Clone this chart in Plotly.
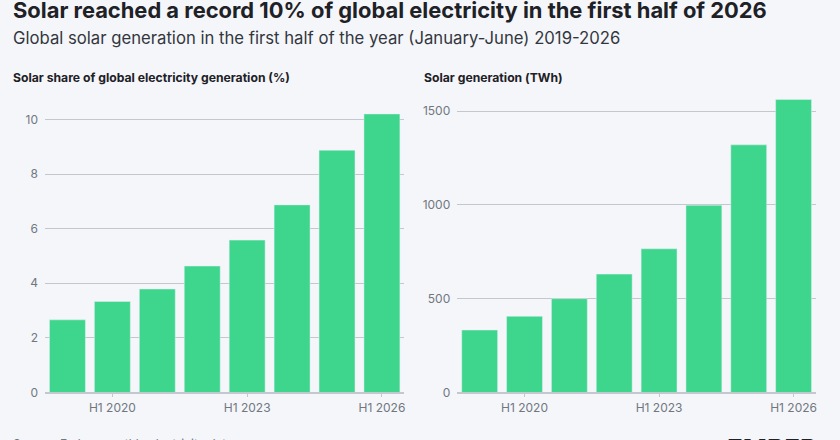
import plotly.graph_objects as go

BG = "#F4F6FA"
GREEN = "#3DD68C"
GRID = "#C3C7CE"
TICK_GRAY = "#72777F"
DARK = "#1E2126"
FONT = "Inter, Noto Sans, sans-serif"

periods = ["H1 2019", "H1 2020", "H1 2021", "H1 2022", "H1 2023", "H1 2024", "H1 2025", "H1 2026"]
shown_ticks = ["H1 2020", "H1 2023", "H1 2026"]
share_pct = [2.66, 3.33, 3.79, 4.63, 5.58, 6.87, 8.87, 10.2]
generation_twh = [333, 406, 500, 631, 766, 998, 1320, 1562]

fig = go.Figure()
fig.add_trace(go.Bar(x=periods, y=share_pct, marker_color=GREEN, xaxis="x", yaxis="y"))
fig.add_trace(go.Bar(x=periods, y=generation_twh, marker_color=GREEN, xaxis="x2", yaxis="y2"))

axis_x = dict(
    type="category", tickvals=shown_ticks, ticks="outside", ticklen=3, tickcolor=GRID,
    showline=True, linecolor=GRID, linewidth=1.5, showgrid=False,
    tickfont=dict(size=12, color=TICK_GRAY, family=FONT),
)
axis_y = dict(
    showgrid=True, gridcolor=GRID, gridwidth=1, zeroline=False, ticks="",
    tickfont=dict(size=12, color=TICK_GRAY, family=FONT), ticklabelstandoff=6,
)

# the page ends up a little taller than the shot, so size for 448 and place by fraction
fig.update_layout(
    width=840, height=448,
    margin=dict(l=0, r=0, t=0, b=0),
    paper_bgcolor=BG, plot_bgcolor=BG,
    showlegend=False, bargap=0.2,
    font=dict(family=FONT, color=DARK),
    xaxis=dict(axis_x, domain=[0.0536, 0.482], anchor="y"),
    yaxis=dict(axis_y, domain=[0.11, 0.78], range=[0, 10.82], tickvals=[0, 2, 4, 6, 8, 10], anchor="x"),
    xaxis2=dict(axis_x, domain=[0.545, 0.9726], anchor="y2"),
    yaxis2=dict(axis_y, domain=[0.11, 0.78], range=[0, 1575], tickvals=[0, 500, 1000, 1500], anchor="x2"),
)

texts = [
    ("<b>Solar reached a record 10% of global electricity in the first half of 2026</b>", 11, 10, 21.9, DARK),
    ("Global solar generation in the first half of the year (January-June) 2019-2026", 11, 38, 16.7, "#33373D"),
    ("<b>Solar share of global electricity generation (%)</b>", 11, 77.5, 12.2, DARK),
    ("<b>Solar generation (TWh)</b>", 423, 77.5, 12.2, DARK),
    ("Source: Ember monthly electricity data", 11, 442, 12, TICK_GRAY),
]
for txt, px, py, size, color in texts:
    fig.add_annotation(
        text=txt, xref="paper", yref="paper", x=px / 840, y=1 - py / 440,
        xanchor="left", yanchor="middle", showarrow=False,
        font=dict(size=size, color=color, family=FONT),
    )
fig.add_annotation(
    text="<b>EMBER</b>", xref="paper", yref="paper", x=820 / 840, y=1 - 447 / 440,
    xanchor="right", yanchor="middle", showarrow=False,
    font=dict(size=26, color=DARK, family=FONT),
)

page_js = (
    "document.body.style.margin='0';"
    "document.body.style.overflow='hidden';"
    "document.documentElement.style.overflow='hidden';"
)
fig.write_html("out.html", post_script=page_js, config={"displayModeBar": False})
